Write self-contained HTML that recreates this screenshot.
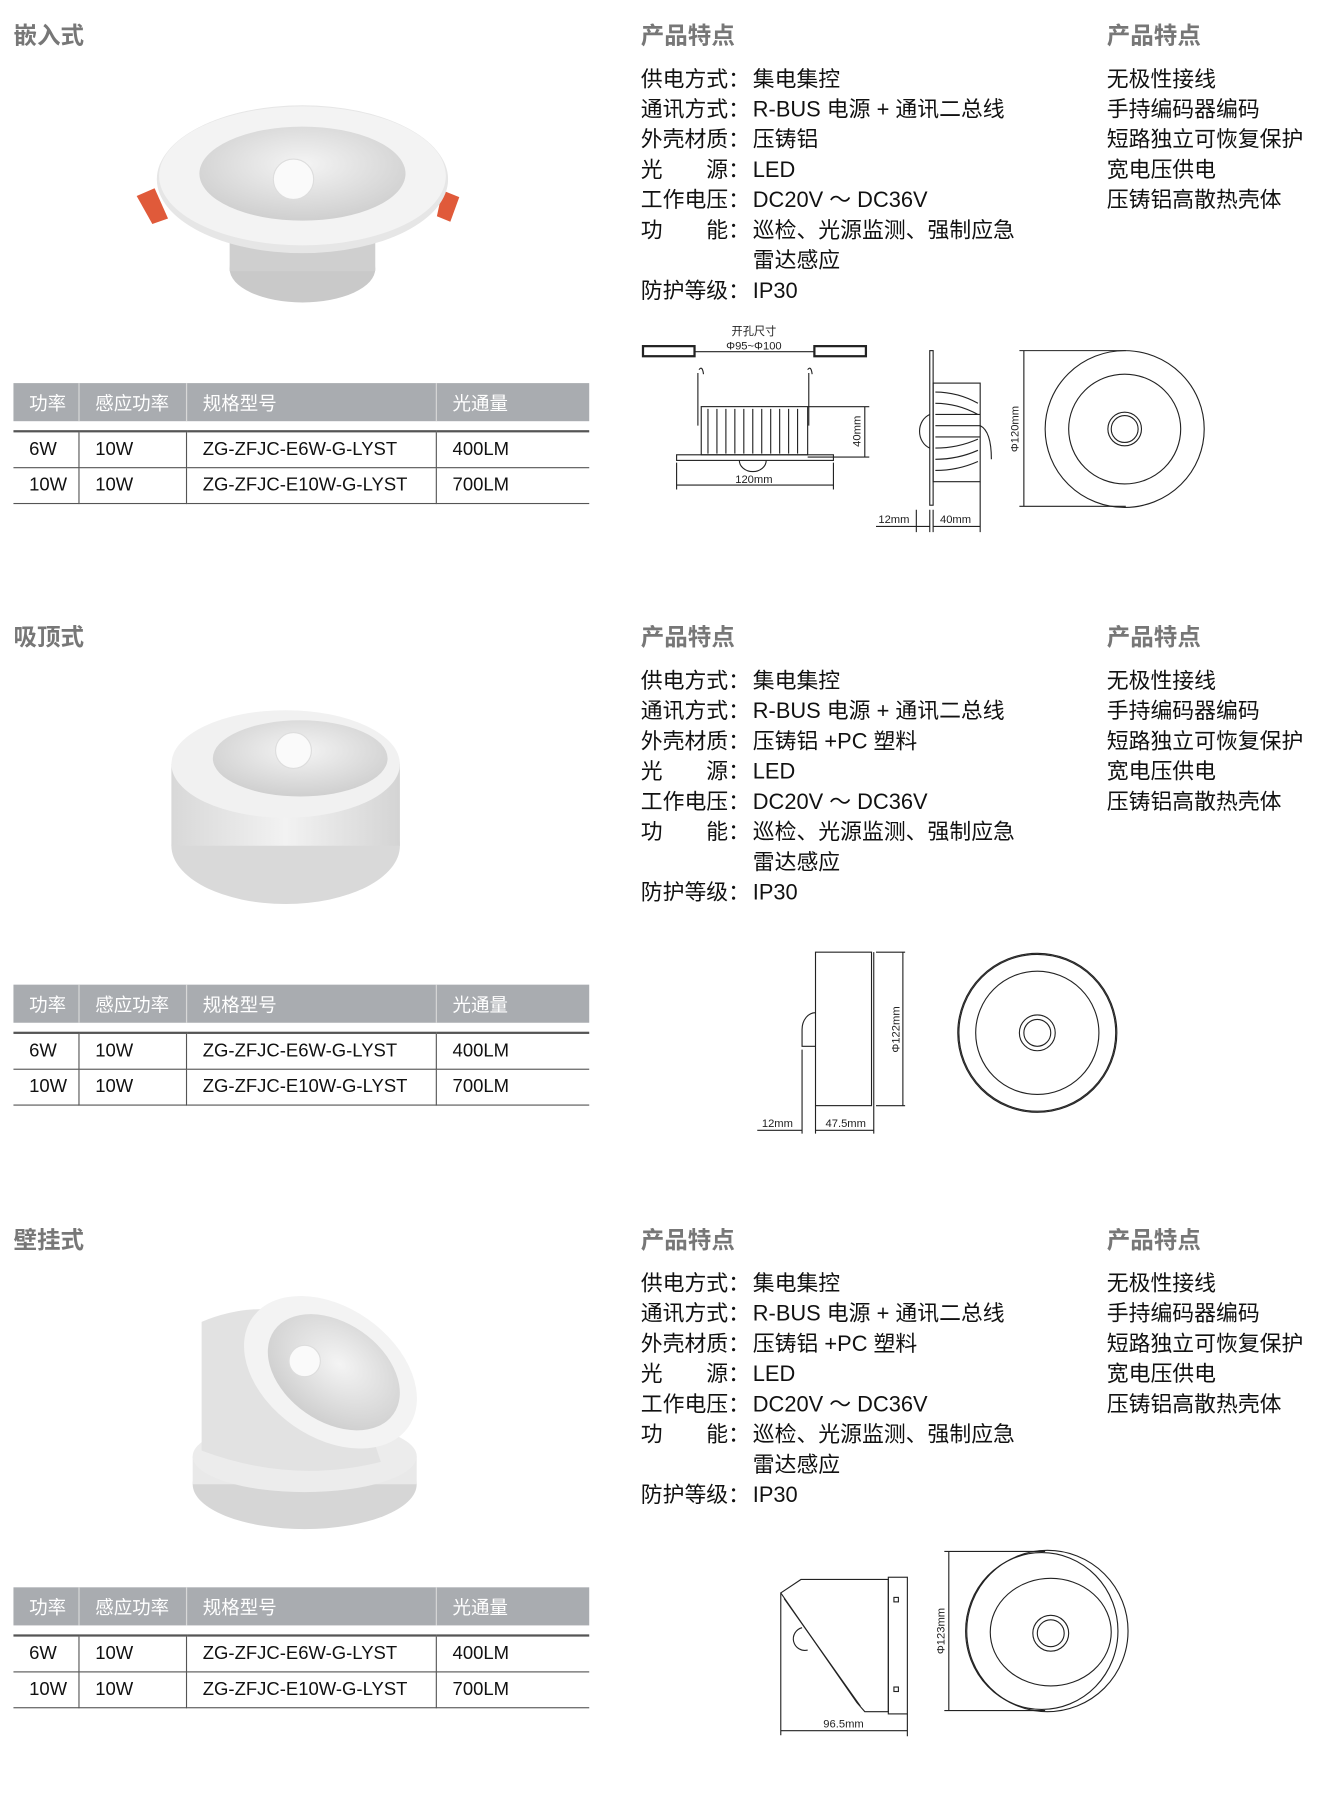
<!DOCTYPE html>
<html><head><meta charset="utf-8"><style>
html,body{margin:0;padding:0;background:#fff;}
body{width:1333px;height:1761px;overflow:hidden;position:relative;}
#w{position:absolute;left:0;top:0;width:1190px;height:1572px;transform:scale(1.1202);transform-origin:0 0;font-family:"Liberation Sans","Noto Sans CJK SC",sans-serif;color:#111;}
.sec{position:absolute;left:0;width:1190px;height:537px;}
.t{position:absolute;white-space:nowrap;}
.h{font-size:21px;font-weight:bold;color:#777;}
.f{font-size:19.5px;line-height:27px;}
table{position:absolute;left:12px;top:342px;width:514px;border-collapse:collapse;font-size:16.5px;}
th{background:#a9acb0;color:#fff;font-weight:normal;text-align:left;height:34px;padding:0 0 0 14px;border-right:1px solid #d8d8d8;}
th:last-child{border-right:none}
td{height:31px;padding:0 0 0 14px;border-right:1px solid #555;border-bottom:1px solid #555;}
td:last-child{border-right:none}
tr.sp td{height:8px;padding:0;border:none;border-bottom:2px solid #555;}
svg{position:absolute;left:0;top:0;}
</style></head><body><div id="w">

<!-- Section 1 -->
<div class="sec" style="top:0">
<div class="t h" style="left:12px;top:16px">嵌入式</div>
<svg width="560" height="330">
 <defs><radialGradient id="g1" cx="50%" cy="40%" r="60%"><stop offset="0" stop-color="#f4f4f4"/><stop offset="1" stop-color="#cfcfcf"/></radialGradient></defs>
 <path d="M122 175 L138 168 L150 195 L136 200 Z" fill="#e05a3a"/>
 <path d="M395 170 L410 176 L402 198 L390 193 Z" fill="#e05a3a"/>
 <ellipse cx="270" cy="240" rx="65" ry="30" fill="#c9c9c9"/>
 <rect x="205" y="210" width="130" height="32" fill="#cfcfcf"/>
 <ellipse cx="270" cy="160" rx="130" ry="66" fill="#e6e6e6"/>
 <ellipse cx="270" cy="157" rx="128" ry="62" fill="#f3f3f3"/>
 <ellipse cx="270" cy="155" rx="92" ry="42" fill="url(#g1)"/>
 <circle cx="262" cy="160" r="18" fill="#fafafa" stroke="#ddd"/>
</svg>
<table><tr><th style="width:44px">功率</th><th style="width:81px">感应功率</th><th style="width:208px">规格型号</th><th>光通量</th></tr>
<tr class="sp"><td></td><td></td><td></td><td></td></tr>
<tr><td>6W</td><td>10W</td><td>ZG-ZFJC-E6W-G-LYST</td><td>400LM</td></tr>
<tr><td>10W</td><td>10W</td><td>ZG-ZFJC-E10W-G-LYST</td><td>700LM</td></tr></table>
<div class="t h" style="left:572px;top:16px">产品特点</div>
<div class="t h" style="left:988px;top:16px">产品特点</div>
<div class="t f" style="left:572px;top:58px">供电方式：<br>通讯方式：<br>外壳材质：<br>光　　源：<br>工作电压：<br>功　　能：<br><br>防护等级：</div>
<div class="t f" style="left:672px;top:58px">集电集控<br>R-BUS 电源 + 通讯二总线<br>压铸铝<br>LED<br>DC20V ～ DC36V<br>巡检、光源监测、强制应急<br>雷达感应<br>IP30</div>
<div class="t f" style="left:988px;top:58px">无极性接线<br>手持编码器编码<br>短路独立可恢复保护<br>宽电压供电<br>压铸铝高散热壳体</div>
<svg width="1190" height="537" fill="none" stroke="#222" stroke-width="1">
 <rect x="574" y="309" width="46" height="9" stroke-width="2"/><rect x="727" y="309" width="46" height="9" stroke-width="2"/>
 <line x1="620" y1="314" x2="727" y2="314"/>
 <text x="673" y="299" font-size="10" fill="#222" stroke="none" text-anchor="middle">开孔尺寸</text>
 <text x="673" y="312" font-size="10" fill="#222" stroke="none" text-anchor="middle">Φ95~Φ100</text>
 <path d="M623 333 L623 380 M624 330 q3 -4 4 4 M722 333 L722 380 M721 330 q3 -4 4 4"/>
 <rect x="626" y="363" width="95" height="43"/>
 <path d="M632 365 v40 M640 365 v40 M648 365 v40 M656 365 v40 M664 365 v40 M672 365 v40 M680 365 v40 M688 365 v40 M696 365 v40 M704 365 v40 M712 365 v40"/>
 <rect x="604" y="406" width="140" height="5"/>
 <path d="M660 411 a12 10 0 0 0 24 0"/>
 <path d="M604 413 v24 M744 413 v24 M604 433 h140 M721 363 h55 M721 408 h55 M772 363 v45"/>
 <text x="673" y="431" font-size="10" fill="#222" stroke="none" text-anchor="middle">120mm</text>
 <text x="768" y="385" font-size="10" fill="#222" stroke="none" transform="rotate(-90 768 385)" text-anchor="middle">40mm</text>
 <rect x="830" y="313" width="3" height="138"/>
 <rect x="833" y="342" width="42" height="88"/>
 <path d="M835 350 q20 0 38 10 M835 360 q20 0 38 10 M835 370 h40 M835 380 h40 M835 390 h40 M835 400 q20 0 38 -8 M835 410 q20 0 38 -8 M835 420 q20 0 38 -8"/>
 <path d="M830 370 a14 16 0 0 0 0 30"/>
 <path d="M875 380 q10 5 10 30"/>
 <path d="M818 455 v20 M830 455 v20 M833 455 v20 M875 430 v45 M782 470 h48 M833 470 h42"/>
 <text x="798" y="467" font-size="10" fill="#222" stroke="none" text-anchor="middle">12mm</text>
 <text x="853" y="467" font-size="10" fill="#222" stroke="none" text-anchor="middle">40mm</text>
 <path d="M910 313 h95 M910 452 h95 M914 313 v139"/>
 <text x="909" y="383" font-size="10" fill="#222" stroke="none" transform="rotate(-90 909 383)" text-anchor="middle">Φ120mm</text>
 <ellipse cx="1004" cy="383" rx="71" ry="70"/>
 <ellipse cx="1004" cy="383" rx="50" ry="49"/>
 <circle cx="1004" cy="383" r="15"/><circle cx="1004" cy="383" r="12"/>
</svg>
</div>

<!-- Section 2 -->
<div class="sec" style="top:537px">
<div class="t h" style="left:12px;top:16px">吸顶式</div>
<svg width="560" height="330">
 <defs><linearGradient id="g2" x1="0" x2="1"><stop offset="0" stop-color="#d8d8d8"/><stop offset=".5" stop-color="#f2f2f2"/><stop offset="1" stop-color="#d4d4d4"/></linearGradient>
 <radialGradient id="g3" cx="50%" cy="40%" r="60%"><stop offset="0" stop-color="#f4f4f4"/><stop offset="1" stop-color="#cfcfcf"/></radialGradient></defs>
 <ellipse cx="255" cy="218" rx="102" ry="52" fill="#d9d9d9"/>
 <rect x="153" y="145" width="204" height="73" fill="url(#g2)"/>
 <ellipse cx="255" cy="145" rx="102" ry="48" fill="#f1f1f1"/>
 <ellipse cx="268" cy="140" rx="78" ry="34" fill="url(#g3)"/>
 <circle cx="262" cy="133" r="16" fill="#fafafa" stroke="#ddd"/>
</svg>
<table><tr><th style="width:44px">功率</th><th style="width:81px">感应功率</th><th style="width:208px">规格型号</th><th>光通量</th></tr>
<tr class="sp"><td></td><td></td><td></td><td></td></tr>
<tr><td>6W</td><td>10W</td><td>ZG-ZFJC-E6W-G-LYST</td><td>400LM</td></tr>
<tr><td>10W</td><td>10W</td><td>ZG-ZFJC-E10W-G-LYST</td><td>700LM</td></tr></table>
<div class="t h" style="left:572px;top:16px">产品特点</div>
<div class="t h" style="left:988px;top:16px">产品特点</div>
<div class="t f" style="left:572px;top:58px">供电方式：<br>通讯方式：<br>外壳材质：<br>光　　源：<br>工作电压：<br>功　　能：<br><br>防护等级：</div>
<div class="t f" style="left:672px;top:58px">集电集控<br>R-BUS 电源 + 通讯二总线<br>压铸铝 +PC 塑料<br>LED<br>DC20V ～ DC36V<br>巡检、光源监测、强制应急<br>雷达感应<br>IP30</div>
<div class="t f" style="left:988px;top:58px">无极性接线<br>手持编码器编码<br>短路独立可恢复保护<br>宽电压供电<br>压铸铝高散热壳体</div>
<svg width="1190" height="537" fill="none" stroke="#222" stroke-width="1">
 <rect x="728" y="313" width="50" height="137"/><line x1="780" y1="313" x2="780" y2="450"/>
 <path d="M728 367 a12 15 0 0 0 -12 15 v15 h12"/>
 <path d="M782 313 h26 M782 450 h26 M806 313 v137"/>
 <text x="803" y="382" font-size="10" fill="#222" stroke="none" transform="rotate(-90 803 382)" text-anchor="middle">Φ122mm</text>
 <path d="M716 400 v75 M728 450 v25 M780 450 v25 M676 472 h40 M728 472 h52"/>
 <text x="694" y="469" font-size="10" fill="#222" stroke="none" text-anchor="middle">12mm</text>
 <text x="755" y="469" font-size="10" fill="#222" stroke="none" text-anchor="middle">47.5mm</text>
 <circle cx="926" cy="385" r="71"/><circle cx="926" cy="385" r="70"/>
 <circle cx="926" cy="385" r="55"/>
 <circle cx="926" cy="385" r="16"/><circle cx="926" cy="385" r="12"/>
</svg>
</div>

<!-- Section 3 -->
<div class="sec" style="top:1075px">
<div class="t h" style="left:12px;top:16px">壁挂式</div>
<svg width="560" height="330">
 <defs><radialGradient id="g4" cx="50%" cy="40%" r="60%"><stop offset="0" stop-color="#f4f4f4"/><stop offset="1" stop-color="#cfcfcf"/></radialGradient></defs>
 <ellipse cx="272" cy="250" rx="100" ry="40" fill="#d6d6d6"/>
 <rect x="172" y="225" width="200" height="25" fill="#e9e9e9"/>
 <ellipse cx="272" cy="225" rx="100" ry="32" fill="#ececec"/>
 <path d="M180 105 Q240 80 300 110 L340 230 Q260 250 180 220 Z" fill="#e2e2e2"/>
 <ellipse cx="295" cy="150" rx="85" ry="58" transform="rotate(35 295 150)" fill="#f3f3f3"/>
 <ellipse cx="298" cy="150" rx="65" ry="44" transform="rotate(35 298 150)" fill="url(#g4)"/>
 <circle cx="272" cy="140" r="14" fill="#fafafa" stroke="#ddd"/>
</svg>
<table><tr><th style="width:44px">功率</th><th style="width:81px">感应功率</th><th style="width:208px">规格型号</th><th>光通量</th></tr>
<tr class="sp"><td></td><td></td><td></td><td></td></tr>
<tr><td>6W</td><td>10W</td><td>ZG-ZFJC-E6W-G-LYST</td><td>400LM</td></tr>
<tr><td>10W</td><td>10W</td><td>ZG-ZFJC-E10W-G-LYST</td><td>700LM</td></tr></table>
<div class="t h" style="left:572px;top:16px">产品特点</div>
<div class="t h" style="left:988px;top:16px">产品特点</div>
<div class="t f" style="left:572px;top:58px">供电方式：<br>通讯方式：<br>外壳材质：<br>光　　源：<br>工作电压：<br>功　　能：<br><br>防护等级：</div>
<div class="t f" style="left:672px;top:58px">集电集控<br>R-BUS 电源 + 通讯二总线<br>压铸铝 +PC 塑料<br>LED<br>DC20V ～ DC36V<br>巡检、光源监测、强制应急<br>雷达感应<br>IP30</div>
<div class="t f" style="left:988px;top:58px">无极性接线<br>手持编码器编码<br>短路独立可恢复保护<br>宽电压供电<br>压铸铝高散热壳体</div>
<svg width="1190" height="537" fill="none" stroke="#222" stroke-width="1">
 <path d="M697 347 L715 335 L793 335 L793 453 L772 453 L765 445 Z"/>
 <path d="M700 352 L768 448"/>
 <rect x="793" y="333" width="17" height="122"/>
 <rect x="798" y="351" width="4" height="4"/><rect x="798" y="431" width="4" height="4"/>
 <path d="M716 378 a10 10 0 0 0 5 20"/>
 <path d="M697 347 v127 M810 455 v20 M697 470 h113"/>
 <text x="753" y="467" font-size="10" fill="#222" stroke="none" text-anchor="middle">96.5mm</text>
 <path d="M843 310 h90 M843 452 h90 M847 310 v142"/>
 <text x="843" y="381" font-size="10" fill="#222" stroke="none" transform="rotate(-90 843 381)" text-anchor="middle">Φ123mm</text>
 <circle cx="935" cy="381" r="72"/>
 <ellipse cx="930" cy="381" rx="68" ry="70"/>
 <ellipse cx="938" cy="382" rx="54" ry="48"/>
 <circle cx="938" cy="383" r="16"/><circle cx="938" cy="383" r="12"/>
</svg>
</div>

</div></body></html>
